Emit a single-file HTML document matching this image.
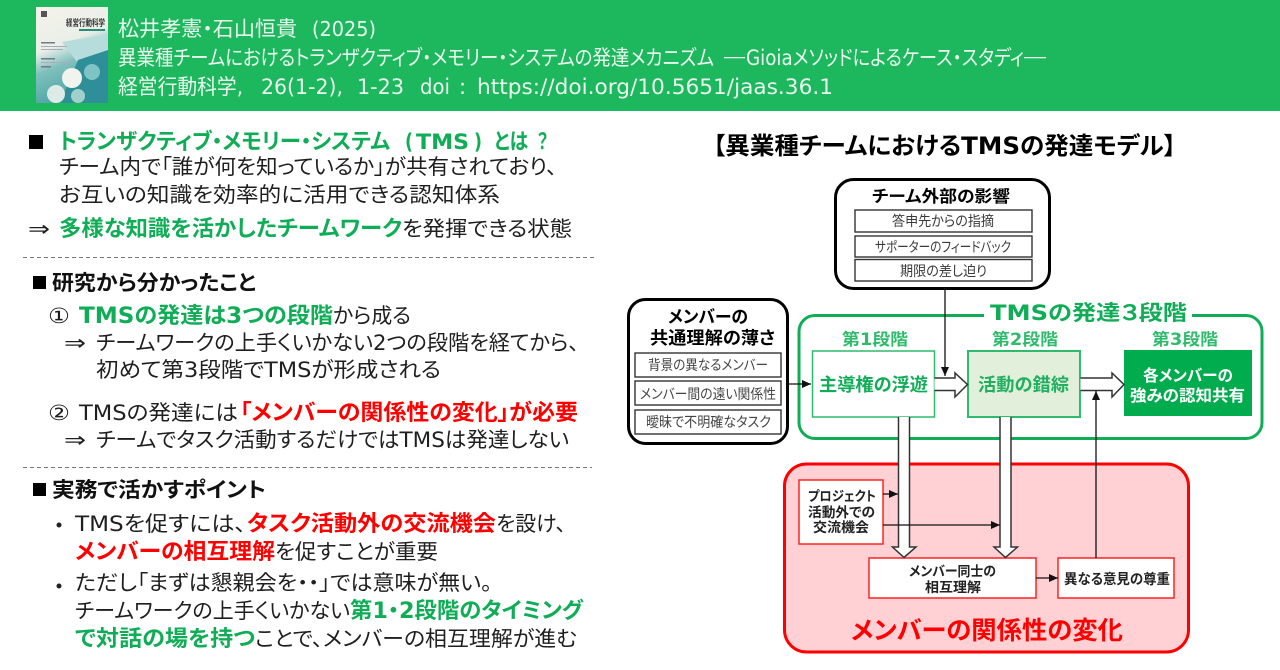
<!DOCTYPE html>
<html lang="ja"><head><meta charset="utf-8"><title>TMS</title>
<style>
html,body{margin:0;padding:0;background:#fff;width:1280px;height:670px;overflow:hidden}
svg{display:block}
text{font-family:"DejaVu Sans","Noto Sans CJK JP",sans-serif;font-size:21px;fill:#1f1f1f;font-feature-settings:"palt"}
.h{fill:#e9f8ee;font-weight:400}
.b{font-weight:700;fill:#111}
.g{fill:#10ad57;font-weight:700;font-size:22px}
.r{fill:#f00;font-weight:700;font-size:22px}
.k{fill:#000}
</style></head><body>
<svg width="1280" height="670" viewBox="0 0 1280 670" xmlns="http://www.w3.org/2000/svg">
<defs>
<linearGradient id="cv" x1="0" y1="0" x2="0.3" y2="1"><stop offset="0" stop-color="#f5f2ea"/><stop offset=".45" stop-color="#e9efe8"/><stop offset=".65" stop-color="#7fc0bd"/><stop offset="1" stop-color="#4ea4a6"/></linearGradient>
<marker id="ah" viewBox="0 0 10 10" refX="10" refY="5" markerWidth="9" markerHeight="8" markerUnits="userSpaceOnUse" orient="auto" preserveAspectRatio="none"><path d="M0 0L10 5L0 10z" fill="#111"/></marker>
<clipPath id="cc"><rect x="36" y="7" width="72" height="96"/></clipPath>
</defs>
<rect width="1280" height="111" fill="#1db75e"/>
<rect x="36" y="7" width="72" height="96" fill="url(#cv)"/>
<g clip-path="url(#cc)">
<path d="M62 42L108 34V58L80 66z" fill="#b6dcdc"/>
<path d="M78 60L108 50V103H60z" fill="#2f8f98"/>
<circle cx="92" cy="72" r="8" fill="#7fc4c4"/>
<circle cx="72" cy="78" r="10" fill="#f0f3ee"/>
<circle cx="56" cy="94" r="9" fill="#dcebe6"/>
<circle cx="78" cy="96" r="7" fill="#9fd0cc"/>
</g>
<text x="66" y="26" style="font-size:9px;font-weight:700;fill:#333" textLength="39" lengthAdjust="spacingAndGlyphs">経営行動科学</text>
<rect x="79" y="29" width="26" height="2" fill="#2d8a7a"/>
<rect x="41" y="11" width="6" height="6" fill="#555"/>
<rect x="41" y="42" width="14" height="1.5" fill="#778"/><rect x="41" y="46" width="26" height="1" fill="#aab"/><rect x="41" y="49" width="22" height="1" fill="#aab"/>
<rect x="41" y="58" width="14" height="1.5" fill="#778"/><rect x="41" y="62" width="30" height="1" fill="#aab"/><rect x="41" y="66" width="10" height="1.5" fill="#778"/>

<text class="h" x="118" y="36" textLength="179" lengthAdjust="spacingAndGlyphs">松井孝憲・石山恒貴</text>
<text class="h" x="312" y="36" style="font-size:20px" textLength="64" lengthAdjust="spacingAndGlyphs">(2025)</text>
<text class="h" x="118" y="65" textLength="596" lengthAdjust="spacingAndGlyphs">異業種チームにおけるトランザクティブ・メモリー・システムの発達メカニズム</text>
<rect x="724" y="57" width="21" height="1.3" fill="#e9f8ee"/>
<text class="h" x="746" y="65" textLength="278" lengthAdjust="spacingAndGlyphs">Gioiaメソッドによるケース・スタディ</text>
<rect x="1024" y="57" width="22" height="1.3" fill="#e9f8ee"/>
<text class="h" x="118" y="94" textLength="125" lengthAdjust="spacingAndGlyphs">経営行動科学,</text>
<text class="h" x="261" y="94" textLength="82" lengthAdjust="spacingAndGlyphs">26(1-2),</text>
<text class="h" x="357" y="94" textLength="47" lengthAdjust="spacingAndGlyphs">1-23</text>
<text class="h" x="420" y="94" textLength="30" lengthAdjust="spacingAndGlyphs">doi</text>
<text class="h" x="459" y="94">:</text>
<text class="h" x="477" y="94" textLength="356" lengthAdjust="spacingAndGlyphs">https://doi.org/10.5651/jaas.36.1</text>

<!-- left -->
<rect x="29" y="135" width="14" height="14" fill="#000"/>
<text class="g" x="59" y="149" textLength="331" lengthAdjust="spacingAndGlyphs">トランザクティブ・メモリー・システム</text>
<text class="g" x="405" y="149" style="font-size:21px" textLength="8" lengthAdjust="spacingAndGlyphs">(</text>
<text class="g" x="416" y="149" style="font-size:21px" textLength="53" lengthAdjust="spacingAndGlyphs">TMS</text>
<text class="g" x="474" y="149" style="font-size:21px" textLength="8" lengthAdjust="spacingAndGlyphs">)</text>
<text class="g" x="494" y="149" textLength="34" lengthAdjust="spacingAndGlyphs">とは</text>
<text class="g" x="537" y="149" textLength="11" lengthAdjust="spacingAndGlyphs">？</text>
<text x="59" y="174" textLength="498" lengthAdjust="spacingAndGlyphs">チーム内で「誰が何を知っているか」が共有されており、</text>
<text x="59" y="202" textLength="441" lengthAdjust="spacingAndGlyphs">お互いの知識を効率的に活用できる認知体系</text>
<text x="28" y="236" textLength="22" lengthAdjust="spacingAndGlyphs">⇒</text>
<text class="g" x="59" y="236" textLength="343" lengthAdjust="spacingAndGlyphs">多様な知識を活かしたチームワーク</text>
<text x="402" y="236" textLength="170" lengthAdjust="spacingAndGlyphs">を発揮できる状態</text>
<line x1="23" y1="257.5" x2="594" y2="257.5" stroke="#777" stroke-dasharray="4 3"/>

<rect x="33" y="276" width="13" height="13" fill="#000"/>
<text class="b" x="52" y="290" textLength="204" lengthAdjust="spacingAndGlyphs">研究から分かったこと</text>
<text x="48" y="323" textLength="22" lengthAdjust="spacingAndGlyphs">①</text>
<text class="g" x="79" y="323" textLength="254" lengthAdjust="spacingAndGlyphs">TMSの発達は3つの段階</text>
<text x="333" y="323" textLength="78" lengthAdjust="spacingAndGlyphs">から成る</text>
<text x="64" y="350" textLength="22" lengthAdjust="spacingAndGlyphs">⇒</text>
<text x="96" y="350" textLength="483" lengthAdjust="spacingAndGlyphs">チームワークの上手くいかない2つの段階を経てから、</text>
<text x="96" y="377" textLength="345" lengthAdjust="spacingAndGlyphs">初めて第3段階でTMSが形成される</text>
<text x="48" y="420" textLength="22" lengthAdjust="spacingAndGlyphs">②</text>
<text x="79" y="420" textLength="159" lengthAdjust="spacingAndGlyphs">TMSの発達には</text>
<text class="r" x="240" y="420" textLength="338" lengthAdjust="spacingAndGlyphs">「メンバーの関係性の変化」が必要</text>
<text x="64" y="447" textLength="22" lengthAdjust="spacingAndGlyphs">⇒</text>
<text x="96" y="447" textLength="473" lengthAdjust="spacingAndGlyphs">チームでタスク活動するだけではTMSは発達しない</text>
<line x1="23" y1="467.5" x2="592" y2="467.5" stroke="#777" stroke-dasharray="4 3"/>

<rect x="33" y="483" width="13" height="13" fill="#000"/>
<text class="b" x="52" y="497" textLength="214" lengthAdjust="spacingAndGlyphs">実務で活かすポイント</text>
<circle cx="59" cy="525" r="2.5" fill="#222"/>
<text x="75" y="531" textLength="171" lengthAdjust="spacingAndGlyphs">TMSを促すには、</text>
<text class="r" x="247" y="531" textLength="249" lengthAdjust="spacingAndGlyphs">タスク活動外の交流機会</text>
<text x="496" y="531" textLength="70" lengthAdjust="spacingAndGlyphs">を設け、</text>
<text class="r" x="75" y="559" textLength="200" lengthAdjust="spacingAndGlyphs">メンバーの相互理解</text>
<text x="275" y="559" textLength="163" lengthAdjust="spacingAndGlyphs">を促すことが重要</text>
<circle cx="59" cy="586" r="2.5" fill="#222"/>
<text x="75" y="590" textLength="417" lengthAdjust="spacingAndGlyphs">ただし「まずは懇親会を・・」では意味が無い。</text>
<text x="75" y="618" textLength="275" lengthAdjust="spacingAndGlyphs">チームワークの上手くいかない</text>
<text class="g" x="350" y="618" textLength="233" lengthAdjust="spacingAndGlyphs">第1・2段階のタイミング</text>
<text class="g" x="75" y="646" textLength="180" lengthAdjust="spacingAndGlyphs">で対話の場を持つ</text>
<text x="255" y="646" textLength="322" lengthAdjust="spacingAndGlyphs">ことで、メンバーの相互理解が進む</text>

<!-- diagram -->
<text class="b k" x="713" y="154" style="font-size:24px" textLength="463" lengthAdjust="spacingAndGlyphs">【異業種チームにおけるTMSの発達モデル】</text>

<rect x="835.5" y="179.5" width="214" height="109" rx="18" fill="#fff" stroke="#000" stroke-width="3"/>
<text class="b k" x="872" y="202" style="font-size:16.5px" textLength="138" lengthAdjust="spacingAndGlyphs">チーム外部の影響</text>
<g fill="#fff" stroke="#333" stroke-width="1.4">
<rect x="855" y="210" width="177" height="22"/><rect x="855" y="236" width="177" height="21"/><rect x="855" y="259.5" width="177" height="21.5"/>
</g>
<text x="892" y="226" style="font-size:14px;fill:#3a3a3a" textLength="102" lengthAdjust="spacingAndGlyphs">答申先からの指摘</text>
<text x="875" y="252" style="font-size:14px;fill:#3a3a3a" textLength="136" lengthAdjust="spacingAndGlyphs">サポーターのフィードバック</text>
<text x="900" y="276" style="font-size:14px;fill:#3a3a3a" textLength="87" lengthAdjust="spacingAndGlyphs">期限の差し迫り</text>

<rect x="628.5" y="299.5" width="159" height="144" rx="17" fill="#fff" stroke="#000" stroke-width="3"/>
<text class="b k" x="668" y="323" style="font-size:17.5px" textLength="80" lengthAdjust="spacingAndGlyphs">メンバーの</text>
<text class="b k" x="650" y="344" style="font-size:17.5px" textLength="125" lengthAdjust="spacingAndGlyphs">共通理解の薄さ</text>
<g fill="#fff" stroke="#333" stroke-width="1.4">
<rect x="635" y="353" width="146" height="24"/><rect x="635" y="381" width="146" height="24"/><rect x="635" y="410" width="146" height="24"/>
</g>
<text x="648" y="370" style="font-size:14px;fill:#444" textLength="120" lengthAdjust="spacingAndGlyphs">背景の異なるメンバー</text>
<text x="640" y="399" style="font-size:14px;fill:#444" textLength="136" lengthAdjust="spacingAndGlyphs">メンバー間の遠い関係性</text>
<text x="646" y="427" style="font-size:14px;fill:#444" textLength="125" lengthAdjust="spacingAndGlyphs">曖昧で不明確なタスク</text>

<rect x="799" y="315.5" width="463" height="123" rx="16" fill="#fff" stroke="#10ad57" stroke-width="3"/>
<rect x="984" y="305" width="208" height="20" fill="#fff"/>
<text class="g" x="990" y="320" style="font-size:21px" textLength="197" lengthAdjust="spacingAndGlyphs">TMSの発達３段階</text>
<text class="g" x="842" y="345" style="font-size:16.5px;fill:#2fbb6b" textLength="66" lengthAdjust="spacingAndGlyphs">第1段階</text>
<text class="g" x="992" y="345" style="font-size:16.5px;fill:#2fbb6b" textLength="66" lengthAdjust="spacingAndGlyphs">第2段階</text>
<text class="g" x="1152" y="345" style="font-size:16.5px;fill:#2fbb6b" textLength="66" lengthAdjust="spacingAndGlyphs">第3段階</text>

<rect x="812.5" y="351" width="122" height="66" fill="#fff" stroke="#2fbb6b" stroke-width="1.5"/>
<text class="g" x="819" y="391" style="font-size:18px" textLength="109" lengthAdjust="spacingAndGlyphs">主導権の浮遊</text>
<rect x="968" y="351" width="112" height="66" fill="#e2efda" stroke="#2fbb6b" stroke-width="2"/>
<text class="g" x="978" y="391" style="font-size:18px;fill:#1fb060" textLength="91" lengthAdjust="spacingAndGlyphs">活動の錯綜</text>
<rect x="1124" y="350" width="128" height="66" fill="#00ac4d"/>
<text x="1143" y="381" style="font-size:16px;font-weight:700;fill:#fff" textLength="90" lengthAdjust="spacingAndGlyphs">各メンバーの</text>
<text x="1130" y="401" style="font-size:16px;font-weight:700;fill:#fff" textLength="115" lengthAdjust="spacingAndGlyphs">強みの認知共有</text>

<rect x="784.5" y="464" width="404" height="188" rx="22" fill="#ffd1d4" stroke="#f00" stroke-width="3"/>
<rect x="799" y="480" width="84" height="64" fill="#fff" stroke="#f22" stroke-width="1.5"/>
<text x="808" y="501" style="font-size:13.5px;font-weight:700;fill:#222" textLength="68" lengthAdjust="spacingAndGlyphs">プロジェクト</text>
<text x="808" y="517" style="font-size:13.5px;font-weight:700;fill:#222" textLength="67" lengthAdjust="spacingAndGlyphs">活動外での</text>
<text x="813" y="532" style="font-size:13.5px;font-weight:700;fill:#222" textLength="56" lengthAdjust="spacingAndGlyphs">交流機会</text>
<rect x="869" y="558" width="167" height="40" fill="#fff" stroke="#f22" stroke-width="1.5"/>
<text x="909" y="576" style="font-size:13.5px;font-weight:700;fill:#222" textLength="87" lengthAdjust="spacingAndGlyphs">メンバー同士の</text>
<text x="925" y="592" style="font-size:13.5px;font-weight:700;fill:#222" textLength="56" lengthAdjust="spacingAndGlyphs">相互理解</text>
<rect x="1058" y="558" width="116" height="40" fill="#fff" stroke="#f22" stroke-width="1.5"/>
<text x="1064" y="584" style="font-size:14px;font-weight:700;fill:#222" textLength="106" lengthAdjust="spacingAndGlyphs">異なる意見の尊重</text>
<text class="r" x="851" y="639" style="font-size:25px" textLength="272" lengthAdjust="spacingAndGlyphs">メンバーの関係性の変化</text>

<!-- block arrows -->
<g fill="#fff" stroke="#333" stroke-width="1.5">
<path d="M934.5 378H955V373L967.5 384.5L955 397V390.5H934.5"/>
<path d="M1080.5 378H1112V373L1124 384.5L1112 397V390.5H1080.5"/>
<path d="M898.5 417V547H892.5L904 557.5L916 547H909.5V417"/>
<path d="M1000 417V547H994L1005.5 557.5L1017.5 547H1011V417"/>
</g>
<!-- thin arrows -->
<g stroke="#111" stroke-width="1.3" fill="none">
<line x1="945" y1="288" x2="945" y2="376" marker-end="url(#ah)"/>
<line x1="1096" y1="558" x2="1096" y2="391" marker-end="url(#ah)"/>
<line x1="788" y1="384" x2="811" y2="384" marker-end="url(#ah)"/>
<line x1="883" y1="494" x2="898" y2="494" marker-end="url(#ah)"/>
<line x1="883" y1="525" x2="1000" y2="525" marker-end="url(#ah)"/>
<line x1="1036" y1="578" x2="1058" y2="578" marker-end="url(#ah)"/>
</g>
</svg>
</body></html>
